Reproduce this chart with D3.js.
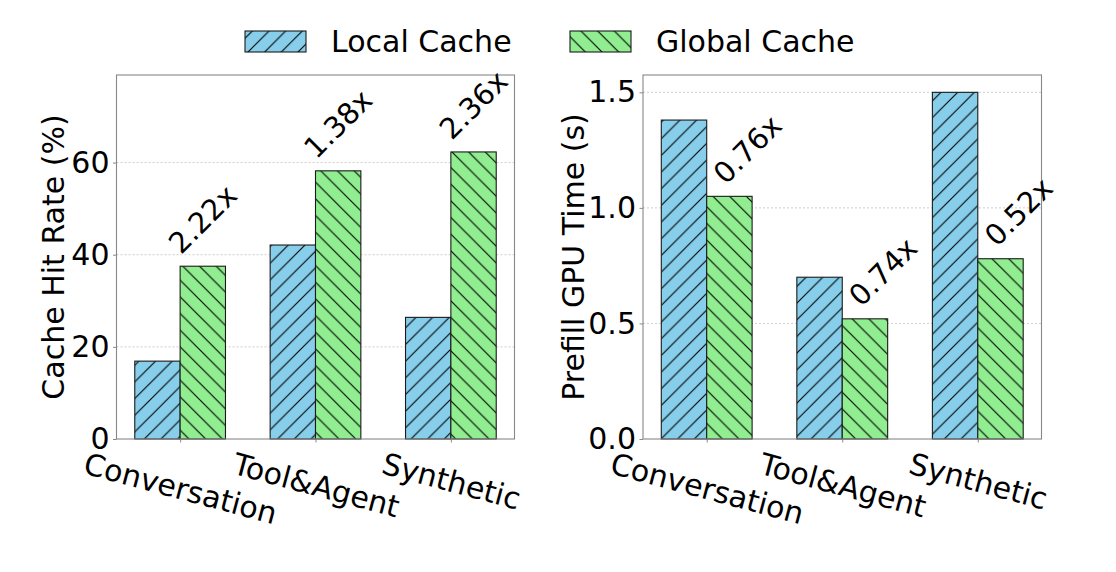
<!DOCTYPE html>
<html><head><meta charset="utf-8">
<script src="https://cdn.jsdelivr.net/npm/d3@7"></script>
<style>body{margin:0;background:#fff} svg text{font-family:"DejaVu Sans",sans-serif;fill:#000}</style>
</head><body><svg id="c" width="1116" height="572"></svg>
<script>
const categories = ["Conversation", "Tool&Agent", "Synthetic"];
const seriesNames = ["Local Cache", "Global Cache"];
const seriesColors = ["#87CEEB", "#90EE90"];
const hitLocal = [16.9, 42.1, 26.4];
const hitGlobal = [37.5, 58.2, 62.3];
const hitRatio = ["2.22x", "1.38x", "2.36x"];
const hitTicks = [0, 20, 40, 60];
const hitMax = 79;
const gpuLocal = [1.38, 0.70, 1.50];
const gpuGlobal = [1.05, 0.52, 0.78];
const gpuRatio = ["0.76x", "0.74x", "0.52x"];
const gpuTicks = [0.0, 0.5, 1.0, 1.5];
const gpuMax = 1.575;

const svg = d3.select("#c");
const defs = svg.append("defs");
const P = 100 / 6;
function hatch(id, color, dir) {
  const p = defs.append("pattern").attr("id", id).attr("patternUnits", "userSpaceOnUse")
    .attr("width", P).attr("height", P);
  p.append("rect").attr("width", P).attr("height", P).attr("fill", color);
  const d = dir === "/"
    ? `M0,${P} L${P},0 M${-P/2},${P/2} L${P/2},${-P/2} M${P/2},${P*1.5} L${P*1.5},${P/2}`
    : `M0,0 L${P},${P} M${-P/2},${P/2} L${P/2},${P*1.5} M${P/2},${-P/2} L${P*1.5},${P/2}`;
  p.append("path").attr("d", d).attr("stroke", "#000").attr("stroke-width", 1.1).attr("fill", "none");
}
hatch("hL", seriesColors[0], "/");
hatch("hG", seriesColors[1], "\\");
const fills = ["url(#hL)", "url(#hG)"];

function rotBox(bb, deg) {
  const a = deg * Math.PI / 180, c = Math.cos(a), s = Math.sin(a);
  const pts = [[bb.x, bb.y], [bb.x + bb.width, bb.y], [bb.x, bb.y + bb.height], [bb.x + bb.width, bb.y + bb.height]]
    .map(([x, y]) => [x * c - y * s, x * s + y * c]);
  const xs = pts.map(p => p[0]), ys = pts.map(p => p[1]);
  return {x0: d3.min(xs), x1: d3.max(xs), y0: d3.min(ys), y1: d3.max(ys)};
}

function panel(o) {
  const g = svg.append("g");
  const x = d3.scaleLinear().domain([-0.47, 2.47]).range([o.left, o.right]);
  const y = d3.scaleLinear().domain([0, o.yMax]).range([o.bottom, o.top]);
  const bw = 0.335;

  // grid
  g.append("g").selectAll("line").data(o.ticks.filter(t => t > 0)).join("line")
    .attr("x1", o.left).attr("x2", o.right).attr("y1", d => y(d)).attr("y2", d => y(d))
    .attr("stroke", "#c8c8c8").attr("stroke-width", 0.9).attr("stroke-dasharray", "2,2");

  const series = [o.local, o.global];
  series.forEach((vals, si) => {
    g.append("g").selectAll("rect").data(vals).join("rect")
      .attr("x", (d, i) => x(i + (si === 0 ? -bw : 0)))
      .attr("width", (d, i) => x(i + bw) - x(i))
      .attr("y", d => y(d)).attr("height", d => y(0) - y(d))
      .attr("fill", fills[si]).attr("stroke", "#1a1a1a").attr("stroke-width", 1.1);
  });

  // y axis
  const ya = g.append("g").attr("transform", `translate(${o.left},0)`)
    .call(d3.axisLeft(y).tickValues(o.ticks).tickFormat(o.fmt).tickSize(3.5).tickPadding(3.5));
  ya.select(".domain").remove();
  ya.selectAll(".tick line").attr("stroke", "#888");
  ya.selectAll(".tick text").attr("font-size", 30).attr("font-family", "DejaVu Sans").attr("fill", "#000");

  // x axis
  const xa = g.append("g").attr("transform", `translate(0,${o.bottom})`)
    .call(d3.axisBottom(x).tickValues([0, 1, 2]).tickFormat(i => categories[i]).tickSize(3.5).tickPadding(3.5));
  xa.select(".domain").remove();
  xa.selectAll(".tick line").attr("stroke", "#888");
  xa.selectAll(".tick text").attr("font-size", 30).attr("font-family", "DejaVu Sans").attr("fill", "#000")
    .attr("y", 0).attr("dy", 0).attr("text-anchor", "middle")
    .each(function () {
      const bb = this.getBBox();
      const r = rotBox(bb, 15);
      const tx = -(r.x0 + r.x1) / 2, ty = 7 - r.y0;
      d3.select(this).attr("transform", `translate(${tx},${ty}) rotate(15)`);
    });

  // frame
  g.append("rect").attr("x", o.left).attr("y", o.top).attr("width", o.right - o.left).attr("height", o.bottom - o.top)
    .attr("fill", "none").attr("stroke", "#888").attr("stroke-width", 1.1);

  // annotations
  g.append("g").selectAll("text").data(o.ratios).join("text")
    .attr("font-size", 29).attr("text-anchor", "start").text(d => d)
    .each(function (d, i) {
      const bb = this.getBBox();
      const r = rotBox(bb, -45);
      const top = y(o.global[i]);
      const ty = top - 6 - r.y1;
      let tx;
      if (o.annot === "center") tx = x(i + bw / 2) - (r.x0 + r.x1) / 2;
      else tx = x(i) - r.x0;
      d3.select(this).attr("transform", `translate(${tx},${ty}) rotate(-45)`);
    });

  // y label
  g.append("text").attr("font-size", 30).attr("text-anchor", "middle")
    .attr("transform", `translate(${o.ylabelX},${(o.top + o.bottom) / 2}) rotate(-90)`)
    .text(o.ylabel);
}

panel({left: 116.5, right: 514.5, top: 75, bottom: 439, yMax: hitMax, ticks: hitTicks, fmt: d3.format("d"),
  local: hitLocal, global: hitGlobal, ratios: hitRatio, ylabel: "Cache Hit Rate (%)", ylabelX: 64, annot: "center"});
panel({left: 643, right: 1041.5, top: 75, bottom: 439, yMax: gpuMax, ticks: gpuTicks, fmt: d3.format(".1f"),
  local: gpuLocal, global: gpuGlobal, ratios: gpuRatio, ylabel: "Prefill GPU Time (s)", ylabelX: 584, annot: "left"});

// legend
const leg = svg.append("g");
const legX = [245, 570];
seriesNames.forEach((n, i) => {
  leg.append("rect").attr("x", legX[i]).attr("y", 31).attr("width", 61).attr("height", 21)
    .attr("fill", fills[i]).attr("stroke", "#1a1a1a").attr("stroke-width", 1.1);
  leg.append("text").attr("x", legX[i] + 86).attr("y", 52).attr("font-size", 30).text(n);
});
</script></body></html>
